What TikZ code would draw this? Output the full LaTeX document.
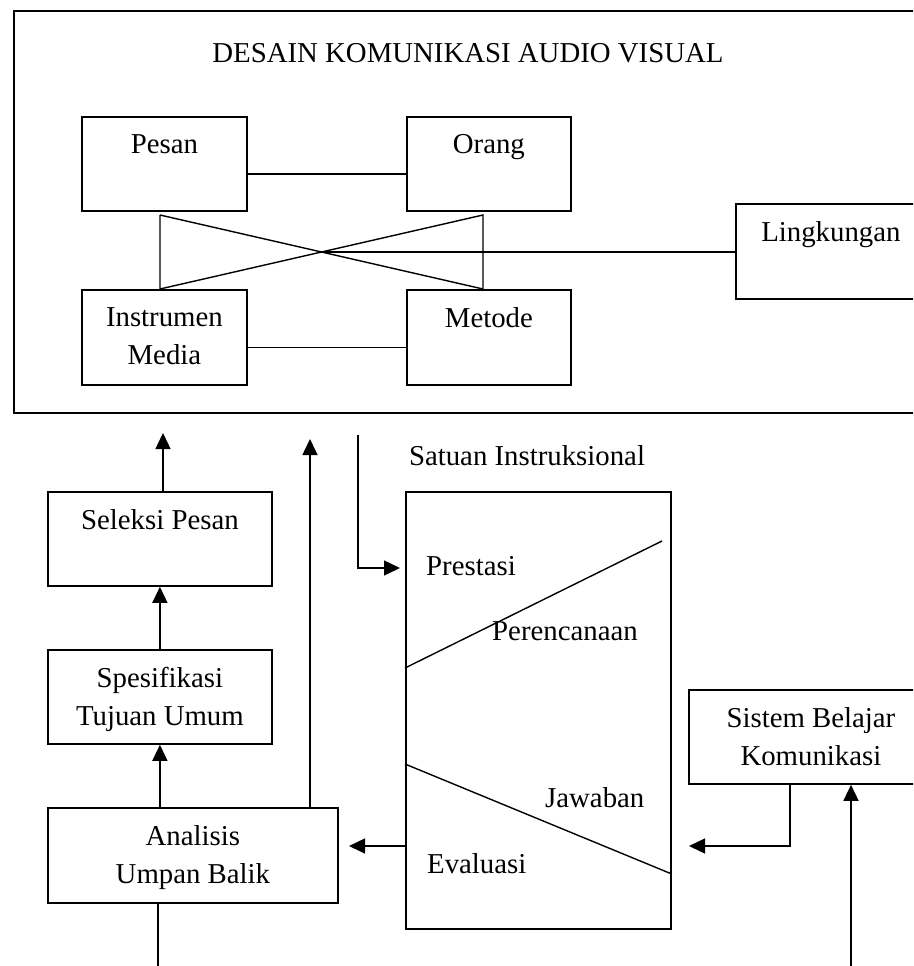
\documentclass[tikz,border=0pt]{standalone}
\usepackage{fontspec}
\setmainfont{Liberation Serif}
\usetikzlibrary{arrows.meta}

\begin{document}
\begin{tikzpicture}[x=1pt, y=-1pt,
		font=\fontsize{28.8}{38}\selectfont,
		kotak/.style={draw, line width=1.8pt, rectangle, inner sep=0pt, anchor=north west},
		judul/.style={anchor=north, inner xsep=0pt, inner ysep=18pt, align=center},
		teks/.style={anchor=base west, inner sep=0pt},
		garis/.style={line width=1.4pt},
		panah/.style={line width=1.4pt, -{Triangle[length=16pt, width=15pt]}}]

		\useasboundingbox (0,0) rectangle (913,966);
		\clip (0,0) rectangle (913,966);

		% desain komunikasi
		\draw[line width=1.8pt] (14,11) rectangle (922,413);
		\node[anchor=base] (desain) at (468,63) {DESAIN KOMUNIKASI AUDIO VISUAL};

		\node[kotak, minimum width=165pt, minimum height=94pt] (pesan) at (81,116) {};
		\node[kotak, minimum width=164pt, minimum height=94pt] (orang) at (406,116) {};
		\node[kotak, minimum width=165pt, minimum height=95pt] (instr) at (81,289) {};
		\node[kotak, minimum width=164pt, minimum height=95pt] (metode) at (406,289) {};
		\node[kotak, minimum width=190pt, minimum height=95pt] (lingk) at (735,203) {};

		\node[judul] (tpesan) at (pesan.north) {Pesan};
		\node[judul] (torang) at (orang.north) {Orang};
		\node[judul] (tinstr) at (instr.north) {Instrumen\\Media};
		\node[judul] (tmetode) at (metode.north) {Metode};
		\node[judul] (tlingk) at (lingk.north) {Lingkungan};

		\draw[garis] ([yshift=-10pt]pesan.east) -- ([yshift=-10pt]orang.west);
		\draw[garis] ([yshift=-10pt]instr.east) -- ([yshift=-10pt]metode.west);

		\coordinate (ka) at (160,215);
		\coordinate (kb) at (483,215);
		\coordinate (silang) at (321.5,252);
		\draw[garis] (ka) -- (ka |- instr.north) -- (kb) -- (kb |- metode.north) -- (ka);
		\draw[garis] (silang) -- (silang -| lingk.west);

		% alur bawah
		\node[kotak, minimum width=224pt, minimum height=94pt] (seleksi) at (47,491) {};
		\node[kotak, minimum width=224pt, minimum height=94pt] (spesif) at (47,649) {};
		\node[kotak, minimum width=290pt, minimum height=95pt] (analisis) at (47,807) {};
		\node[kotak, minimum width=265pt, minimum height=437pt] (satuan) at (405,491) {};
		\node[kotak, minimum width=244pt, minimum height=94pt] (sistem) at (688,689) {};

		\node[judul] (tseleksi) at (seleksi.north) {Seleksi Pesan};
		\node[judul] (tspesif) at (spesif.north) {Spesifikasi\\Tujuan Umum};
		\node[judul] (tanalisis) at (analisis.north) {Analisis\\Umpan Balik};
		\node[judul] (tsistem) at (sistem.north) {Sistem Belajar\\Komunikasi};
		\node[anchor=base] (tsatuan) at (527,465) {Satuan Instruksional};

		\node[teks] (prestasi) at (426,575) {Prestasi};
		\node[teks] (perencanaan) at (492,640) {Perencanaan};
		\node[teks] (jawaban) at (545,807) {Jawaban};
		\node[teks] (evaluasi) at (427,873) {Evaluasi};

		\draw[garis] (satuan.west |- 0,668) -- (662,541);
		\draw[garis] (satuan.west |- 0,764) -- (satuan.east |- 0,874);

		\coordinate (keA) at (163,433);
		\coordinate (keB) at (310,439);
		\coordinate (dariC) at (358,435);
		\coordinate (keC) at (400,568);
		\coordinate (keD) at (349,846);
		\coordinate (keE) at (689,846);
		\coordinate (dariF) at (851,970);
		\coordinate (keG) at (158,970);

		\draw[panah] (seleksi.north -| keA) -- (keA);
		\draw[panah] (spesif.north) -- (seleksi.south);
		\draw[panah] (analisis.north -| spesif.south) -- (spesif.south);
		\draw[panah] (analisis.north -| keB) -- (keB);
		\draw[panah] (dariC) |- (keC);
		\draw[panah] (satuan.west |- keD) -- (keD);
		\draw[panah] ([xshift=-21pt]sistem.south) |- (keE);
		\draw[panah] (dariF) -- (dariF |- sistem.south);
		\draw[garis] (analisis.south -| keG) -- (keG);

\end{tikzpicture}
\end{document}
